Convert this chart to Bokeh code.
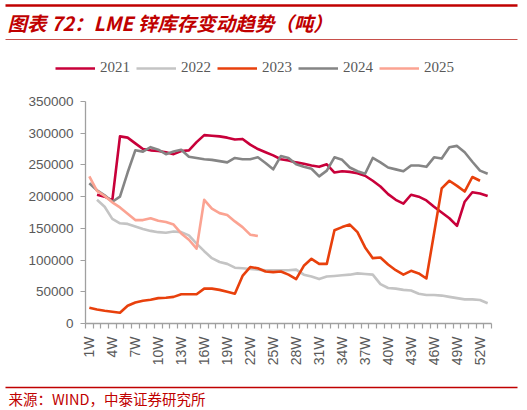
import math
from bokeh.plotting import figure
from bokeh.models import (Range1d, FixedTicker, NumeralTickFormatter, Legend,
                          LegendItem, Label, LinearAxis, ColumnDataSource)
from bokeh.layouts import column, row
from bokeh.embed import file_html
from bokeh.resources import INLINE

nan = float("nan")

# ---------------- data ----------------
title_text = "图表 72：LME 锌库存变动趋势（吨）"
source_text = "来源：WIND，中泰证券研究所"

weeks = [f"{i}W" for i in range(1, 54)]          # 1W .. 53W
label_weeks = list(range(1, 54, 3))               # 1W, 4W, ..., 52W shown

years = ["2021", "2022", "2023", "2024", "2025"]
colors = ["#C8003A", "#C4C4C4", "#E8400C", "#858585", "#FBA392"]

s2021 = [nan, 203000, 200000, 194000, 295000, 293000, 284000, 275000, 273000, 272000,
         270000, 267000, 272000, 273000, 286000, 297000, 296000, 295000, 293000, 290000,
         291000, 282000, 275000, 270000, 265000, 259000, 257000, 254000, 252000, 249000,
         247000, 251000, 238000, 240000, 239000, 237000, 233000, 225000, 216000, 204000,
         195000, 189000, 203000, 200000, 194000, 184000, 175000, 166000, 154000, 192000,
         207000, 205000, 201000]
s2022 = [nan, 195000, 184000, 165000, 158000, 157000, 153000, 149000, 146000, 144000,
         143000, 145000, 144000, 139000, 126000, 114000, 103000, 97000, 94000, 88000,
         87000, 86000, 85000, 84000, 84000, 84000, 84000, 85000, 77000, 74000,
         70000, 74000, 75000, 76000, 77000, 79000, 78000, 77000, 62000, 56000,
         55000, 53000, 52000, 47000, 45000, 45000, 44000, 42000, 40000, 38000,
         38000, 37000, 32000]
s2023 = [25000, 22000, 20000, 18500, 17000, 28000, 33000, 36000, 37500, 40000,
         40500, 42000, 46000, 46000, 46000, 55000, 55000, 53000, 50000, 47000,
         75000, 89000, 87000, 82000, 81000, 82000, 77000, 70000, 91000, 102000,
         94000, 94000, 147000, 152000, 156000, 144000, 120000, 103000, 104000, 93000,
         84000, 77000, 83000, 79000, 71000, 142000, 213000, 225000, 217000, 208000,
         231000, 225000, nan]
s2024 = [221000, 210000, 202000, 192000, 200000, 238000, 273000, 271000, 278000, 274000,
         267000, 271000, 274000, 263000, 261000, 259000, 258000, 256000, 254000, 261000,
         259000, 259000, 262000, 253000, 243000, 264000, 261000, 251000, 247000, 244000,
         232000, 241000, 262000, 258000, 246000, 240000, 236000, 261000, 254000, 246000,
         243000, 240000, 249000, 249000, 247000, 262000, 260000, 278000, 280000, 270000,
         255000, 241000, 236000]
s2025 = [232000, 209000, 201000, 191000, 183000, 173000, 163000, 163000, 166000, 162000,
         160000, 156000, 142000, 132000, 118000, 195000, 181000, 174000, 171000, 161000,
         152000, 140000, 138000]

series = [s2021, s2022, s2023, s2024, s2025]
y_ticks = [0, 50000, 100000, 150000, 200000, 250000, 300000, 350000]

# ---------------- layout / style (page pixels) ----------------
W = 527
TITLE_H, LEG_H, MAIN_H, FTR_H = 40, 45, 297, 28
F_LEFT, F_RIGHT = 85, 491          # plot frame left/right
F_TOP, F_BOTTOM = 95, 323          # plot frame top/bottom
Y350 = 101                         # page y of the 350000 tick
RULE_L, RULE_R = 5, 517            # horizontal extent of the red rules
RED = "#C00000"
THIN_RED = "#C8504B"
GREY_TXT = "#595959"
AXIS_GREY = "#A0A0A0"
LINE_W = 2.6

y_top = 350000 * (F_BOTTOM - F_TOP) / (F_BOTTOM - Y350)

sources = [ColumnDataSource(dict(x=list(range(1, len(s) + 1)), y=s)) for s in series]


def rule_axis(color, width):
    # a bare axis (no ticks, no labels) used as a horizontal rule
    return LinearAxis(ticker=FixedTicker(ticks=[]), axis_line_color=color,
                      axis_line_width=width, major_tick_line_color=None,
                      minor_tick_line_color=None, major_label_text_font_size="0px",
                      major_tick_out=0, major_tick_in=0, minor_tick_out=0, minor_tick_in=0,
                      major_label_standoff=0)


def ruled_fig(height, border_top, border_bottom):
    f = figure(width=W, height=height, x_range=Range1d(RULE_L, RULE_R),
               y_range=Range1d(border_bottom, height - border_top),
               toolbar_location=None, output_backend="svg",
               min_border_left=RULE_L, min_border_right=W - RULE_R,
               min_border_top=border_top, min_border_bottom=border_bottom,
               x_axis_location=None, y_axis_location=None)
    f.grid.visible = False
    f.outline_line_color = None
    return f


# ---------------- title block: thick rule, title, thin rule ----------------
ttl = ruled_fig(TITLE_H, 5, 1)
ttl.add_layout(rule_axis(RED, 2.5), "above")
ttl.add_layout(rule_axis(THIN_RED, 1.0), "below")
ttl.add_layout(Label(x=7, y=TITLE_H - 22, text=title_text, text_font="Noto Sans CJK SC",
                     text_font_style="bold italic", text_font_size="19.5px",
                     text_color=RED, text_baseline="middle", text_align="left"))

# ---------------- legend block ----------------
leg = figure(width=W, height=LEG_H, x_range=Range1d(0, W), y_range=Range1d(0, LEG_H),
             toolbar_location=None, output_backend="svg",
             min_border_left=0, min_border_right=0, min_border_top=0, min_border_bottom=0,
             x_axis_location=None, y_axis_location=None)
leg.grid.visible = False
leg.outline_line_color = None
items = []
for yr, col, src in zip(years, colors, sources):
    # same data as the chart; lies outside this block's ranges, used only as legend keys
    r = leg.line("x", "y", source=src, line_color=col, line_width=LINE_W)
    items.append(LegendItem(label=yr, renderers=[r]))
legend = Legend(items=items, orientation="horizontal",
                location=(55, LEG_H - (68 - TITLE_H) - 8),
                glyph_width=40, glyph_height=16, label_height=16, label_standoff=5,
                spacing=6, padding=0, margin=0,
                label_text_font="Liberation Serif", label_text_font_size="15px",
                label_text_color=GREY_TXT, background_fill_alpha=0, border_line_alpha=0)
leg.add_layout(legend)

# ---------------- main chart ----------------
top0 = TITLE_H + LEG_H
p = figure(width=W, height=MAIN_H, x_range=Range1d(0.5, 53.5), y_range=Range1d(0, y_top),
           toolbar_location=None, output_backend="svg",
           min_border_left=F_LEFT, min_border_right=W - F_RIGHT,
           min_border_top=F_TOP - top0, min_border_bottom=top0 + MAIN_H - F_BOTTOM)
p.grid.visible = False
p.outline_line_color = None

for col, src in zip(colors, sources):
    p.line("x", "y", source=src, line_color=col, line_width=LINE_W, line_join="round")

xa = p.xaxis[0]
xa.ticker = FixedTicker(ticks=label_weeks, minor_ticks=[i + 0.5 for i in range(0, 54)])
xa.major_label_overrides = {t: weeks[t - 1] for t in label_weeks}
xa.major_label_orientation = math.pi / 2
xa.major_tick_out = 0
xa.major_tick_in = 0
xa.minor_tick_out = 5
xa.minor_tick_in = 0
xa.major_label_standoff = 8
xa.axis_line_color = AXIS_GREY
xa.axis_line_width = 1.3
xa.minor_tick_line_color = AXIS_GREY
xa.minor_tick_line_width = 1.2
xa.major_label_text_font = "Liberation Sans"
xa.major_label_text_font_size = "14px"
xa.major_label_text_color = GREY_TXT

ya = p.yaxis[0]
ya.ticker = FixedTicker(ticks=y_ticks)
ya.formatter = NumeralTickFormatter(format="0")
ya.bounds = (0, 350000)
ya.major_tick_out = 5
ya.major_tick_in = 0
ya.minor_tick_out = 0
ya.minor_tick_in = 0
ya.major_label_standoff = 7
ya.axis_line_color = AXIS_GREY
ya.axis_line_width = 1.3
ya.major_tick_line_color = AXIS_GREY
ya.major_tick_line_width = 1.2
ya.major_label_text_font = "Liberation Sans"
ya.major_label_text_font_size = "13.5px"
ya.major_label_text_color = GREY_TXT

# ---------------- footer: rule and source ----------------
ftr = ruled_fig(FTR_H, 5, 0)
ftr.add_layout(rule_axis(RED, 1.3), "above")
ftr_top = top0 + MAIN_H
ftr.add_layout(Label(x=8, y=FTR_H - (398 - ftr_top), text=source_text,
                     text_font="Noto Sans CJK SC", text_font_size="14.5px",
                     text_color=RED, text_baseline="middle", text_align="left"))

layout = column(row(ttl), row(leg), row(p), row(ftr), spacing=0)
open("out.html", "w").write(file_html(layout, INLINE))
